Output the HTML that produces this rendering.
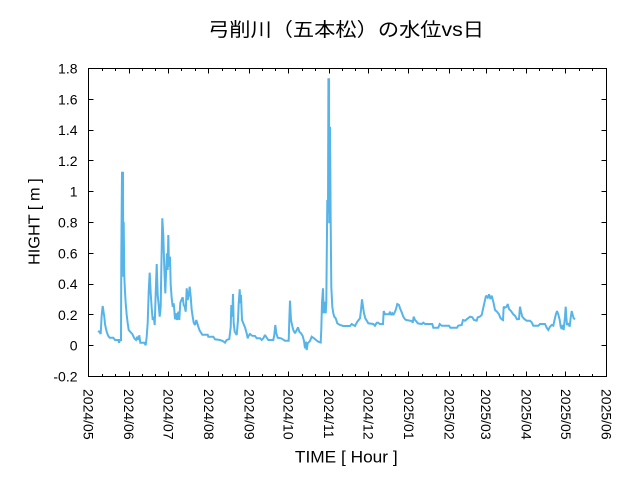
<!DOCTYPE html>
<html><head><meta charset="utf-8"><style>
html,body{margin:0;padding:0;background:#fff;}
svg{display:block;}
text{font-family:"Liberation Sans","Noto Sans CJK JP",sans-serif;fill:#000;}
</style></head><body>
<svg width="640" height="480" viewBox="0 0 640 480" xmlns="http://www.w3.org/2000/svg">
<rect width="640" height="480" fill="#fff"/>
<text x="208" y="36" font-size="19" textLength="276" lengthAdjust="spacingAndGlyphs">弓削川（五本松）の水位vs日</text>
<g font-size="14" text-anchor="end">
<text x="77.5" y="73.5">1.8</text>
<text x="77.5" y="104.3">1.6</text>
<text x="77.5" y="135.1">1.4</text>
<text x="77.5" y="165.9">1.2</text>
<text x="77.5" y="196.7">1</text>
<text x="77.5" y="227.5">0.8</text>
<text x="77.5" y="258.3">0.6</text>
<text x="77.5" y="289.1">0.4</text>
<text x="77.5" y="319.9">0.2</text>
<text x="77.5" y="350.7">0</text>
<text x="77.5" y="381.5">-0.2</text>
</g>
<g font-size="14">
<text transform="translate(83.5,389) rotate(90)">2024/05</text>
<text transform="translate(124.05,389) rotate(90)">2024/06</text>
<text transform="translate(163.29,389) rotate(90)">2024/07</text>
<text transform="translate(203.84,389) rotate(90)">2024/08</text>
<text transform="translate(244.39,389) rotate(90)">2024/09</text>
<text transform="translate(283.64,389) rotate(90)">2024/10</text>
<text transform="translate(324.19,389) rotate(90)">2024/11</text>
<text transform="translate(363.43,389) rotate(90)">2024/12</text>
<text transform="translate(403.98,389) rotate(90)">2025/01</text>
<text transform="translate(444.53,389) rotate(90)">2025/02</text>
<text transform="translate(481.16,389) rotate(90)">2025/03</text>
<text transform="translate(521.71,389) rotate(90)">2025/04</text>
<text transform="translate(560.95,389) rotate(90)">2025/05</text>
<text transform="translate(601.5,389) rotate(90)">2025/06</text>
</g>
<text x="346.3" y="462.7" font-size="17" text-anchor="middle" textLength="102.7" lengthAdjust="spacingAndGlyphs">TIME [ Hour ]</text>
<text transform="translate(39.5,221.7) rotate(-90)" font-size="16" text-anchor="middle" textLength="86.7" lengthAdjust="spacingAndGlyphs">HIGHT [ m ]</text>

<g stroke="#000" stroke-width="1" fill="none" shape-rendering="crispEdges">
<rect x="88.5" y="68.5" width="518" height="308"/>
<path d="M88.5 68.5h5M88.5 99.5h5M88.5 130.5h5M88.5 160.5h5M88.5 191.5h5M88.5 222.5h5M88.5 253.5h5M88.5 284.5h5M88.5 314.5h5M88.5 345.5h5M88.5 376.5h5
M606.5 68.5h-5M606.5 99.5h-5M606.5 130.5h-5M606.5 160.5h-5M606.5 191.5h-5M606.5 222.5h-5M606.5 253.5h-5M606.5 284.5h-5M606.5 314.5h-5M606.5 345.5h-5M606.5 376.5h-5"/>
<path d="M129.5 376.5v-5M168.5 376.5v-5M208.5 376.5v-5M249.5 376.5v-5M288.5 376.5v-5M329.5 376.5v-5M368.5 376.5v-5M408.5 376.5v-5M449.5 376.5v-5M486.5 376.5v-5M526.5 376.5v-5M565.5 376.5v-5
M129.5 68.5v5M168.5 68.5v5M208.5 68.5v5M249.5 68.5v5M288.5 68.5v5M329.5 68.5v5M368.5 68.5v5M408.5 68.5v5M449.5 68.5v5M486.5 68.5v5M526.5 68.5v5M565.5 68.5v5"/>
<path d="M102.5 376.5v-2.5M115.5 376.5v-2.5M142.5 376.5v-2.5M155.5 376.5v-2.5M181.5 376.5v-2.5M195.5 376.5v-2.5M222.5 376.5v-2.5M235.5 376.5v-2.5M262.5 376.5v-2.5M275.5 376.5v-2.5M302.5 376.5v-2.5M315.5 376.5v-2.5M342.5 376.5v-2.5M355.5 376.5v-2.5M381.5 376.5v-2.5M395.5 376.5v-2.5M422.5 376.5v-2.5M436.5 376.5v-2.5M461.5 376.5v-2.5M473.5 376.5v-2.5M499.5 376.5v-2.5M513.5 376.5v-2.5M539.5 376.5v-2.5M552.5 376.5v-2.5M579.5 376.5v-2.5M592.5 376.5v-2.5
M102.5 68.5v2.5M115.5 68.5v2.5M142.5 68.5v2.5M155.5 68.5v2.5M181.5 68.5v2.5M195.5 68.5v2.5M222.5 68.5v2.5M235.5 68.5v2.5M262.5 68.5v2.5M275.5 68.5v2.5M302.5 68.5v2.5M315.5 68.5v2.5M342.5 68.5v2.5M355.5 68.5v2.5M381.5 68.5v2.5M395.5 68.5v2.5M422.5 68.5v2.5M436.5 68.5v2.5M461.5 68.5v2.5M473.5 68.5v2.5M499.5 68.5v2.5M513.5 68.5v2.5M539.5 68.5v2.5M552.5 68.5v2.5M579.5 68.5v2.5M592.5 68.5v2.5"/>
</g>

<polyline fill="none" stroke="#56b4e9" stroke-width="2" stroke-linejoin="miter" stroke-miterlimit="2" points="
98.3,330.7 100,332.7 100.7,334 101,328 101.7,315 102.7,306 103.7,313 104.3,316.7 105,324 106,329 107,332.7 108.3,336 109.7,337.7 113.3,337.7 115,340 118.3,340 119,342.7 120,340 121,340 121.3,256.7 122,172.7 123,172.7 123.3,276.7 123.7,222 124.3,276.7 125,291.7 125.7,303.3 126.7,315 127.7,323.3 128.7,330 130.7,332.3 132.3,334 134.3,338.3 136,340 137.3,336.7 138.3,340 139.3,335.3 140.3,342.7 144.3,342.7 145.7,345.3 146.7,336.7 147.7,322.7 148.7,291.7 149.7,272.7 150.7,293.3 151.7,308.3 152.7,320 153.7,316.7 154.7,325 155.7,293.3 156.7,264 157.7,295 158.7,305 159.7,316.7 160.7,306.7 161.3,270 162.3,218.3 163.3,235 164.3,268.3 165.3,293.3 166,275 167,253.3 167.7,270 168.3,235 169,266.7 170,256.7 170.7,285 171.7,298.3 172.7,306.7 173.7,303.3 174.3,310 175,319.3 176,313.3 177,320 178.3,311.7 179.3,320 180.3,302.7 181.7,299.3 182.7,297.3 183.7,305 184.7,306.7 185.7,311.7 186.7,288.3 187.7,300 188.7,295 189.7,286.7 190.7,296.7 191.7,310 192.7,316.7 193.7,322.7 195,325 196.3,320 197.3,323.3 198.3,326.7 199.7,330.7 201,332.7 202.3,334.7 207.7,334.7 208.3,336.7 213.3,336.7 215,339.3 220,340 222.7,341 225,342.7 226.7,340 229.3,339 230.7,327.3 231.3,305 232.3,316.7 233,294 233.7,323.3 234.7,331.7 236.7,335 238,320 238.7,303.3 239.7,289.3 240.3,303.3 241,295 242,320 243.3,323.3 245,327.3 246.7,333.3 247.7,338.3 248.7,335.7 250,334 252,335.7 255,336 256.7,338.3 260,338.3 261.7,340 263.3,338.3 265,335 266.7,337.7 268.3,340 273.3,340 274.3,335 275.3,325 276.3,333.3 277.7,337.7 281,338.3 282.7,339.3 285,340.7 288.7,340.7 289.3,320 290,300.7 291,320 292.3,326 293.3,330 295,333.3 296.7,330 298,327.3 299.3,331.7 301,333.3 302.7,336 304,341 305,348.3 306,341.7 306.7,350 307.7,343.3 310,341 311.7,336.7 314,338.3 316,340 318.3,341.7 320.7,342.5 321.3,329.3 322,302.7 323,288.3 323.7,313.3 324.7,301.7 325.7,313.3 326.3,303.3 327.3,200 328,213.3 328.4,79.3 329,79.3 329.3,223.3 330,126.7 330.7,223.3 331.3,286.7 332.3,306.7 333.3,313.3 334.3,316.7 335.7,318.3 337.3,323.3 340,325 343.3,326 350,326 351.7,324 353.3,325 355,326 357.3,321.7 360,318.3 361,310 362,299.3 363,306.7 364,313.3 365.3,318.3 368.3,323.3 373.3,324 375,325.7 376.7,322.7 378.3,322.7 379.7,324 383,324 383.7,311 385,314.3 389,314.3 390,311.7 391,315 392.3,313.3 393.3,315 395,311.7 396,309 397.3,304 399,305 400,308.3 401.7,312.3 403.3,316.7 405,319.3 406.3,320 411.7,321 412.7,322.7 413.7,316.7 415,320 416.7,321.7 417.7,323.3 421.7,324 423.3,322.7 425,324 432.3,324 433.3,327.7 438.3,327.7 439.7,324 441.7,325.7 449,325.7 450.3,327.7 457,327.7 458.3,325.7 461.7,325 463,320 465,320.7 466.7,319.3 470,316.7 472.3,317.3 474,320 476.7,320.7 477.7,317.3 479.7,316.7 481.7,315 483,309 484.3,303.3 486,295.7 487.7,297.7 489,294.3 490.3,299 491.7,295.7 493.3,301.7 495,310 497,311.7 499,314.3 500.3,317.7 501.7,319.3 503,320 503.7,306.7 505,307.7 506.7,306.7 507.7,304 509,309 511,311 513.3,314.3 515,315.7 517,319.3 519,319 520,306.7 521,311.7 522.3,316.7 524.3,319 526.7,320.7 530,320.7 531.7,322.3 533.3,325.7 538.3,325.7 540,324 545,324 546.7,327.7 548.3,330 550,326.7 551.7,325 553.3,325.7 554.3,321 555.7,315 557,311 558.3,314.3 559.7,320 560.7,326.7 561.7,329 562.7,325 563.7,330 565,316.7 565.7,306.7 566.3,316.7 567,325 568.3,323.3 569.7,326.7 570.7,317.7 571.7,311 572.7,315 573.7,318.3 575,319.3"/>
</svg>
</body></html>
